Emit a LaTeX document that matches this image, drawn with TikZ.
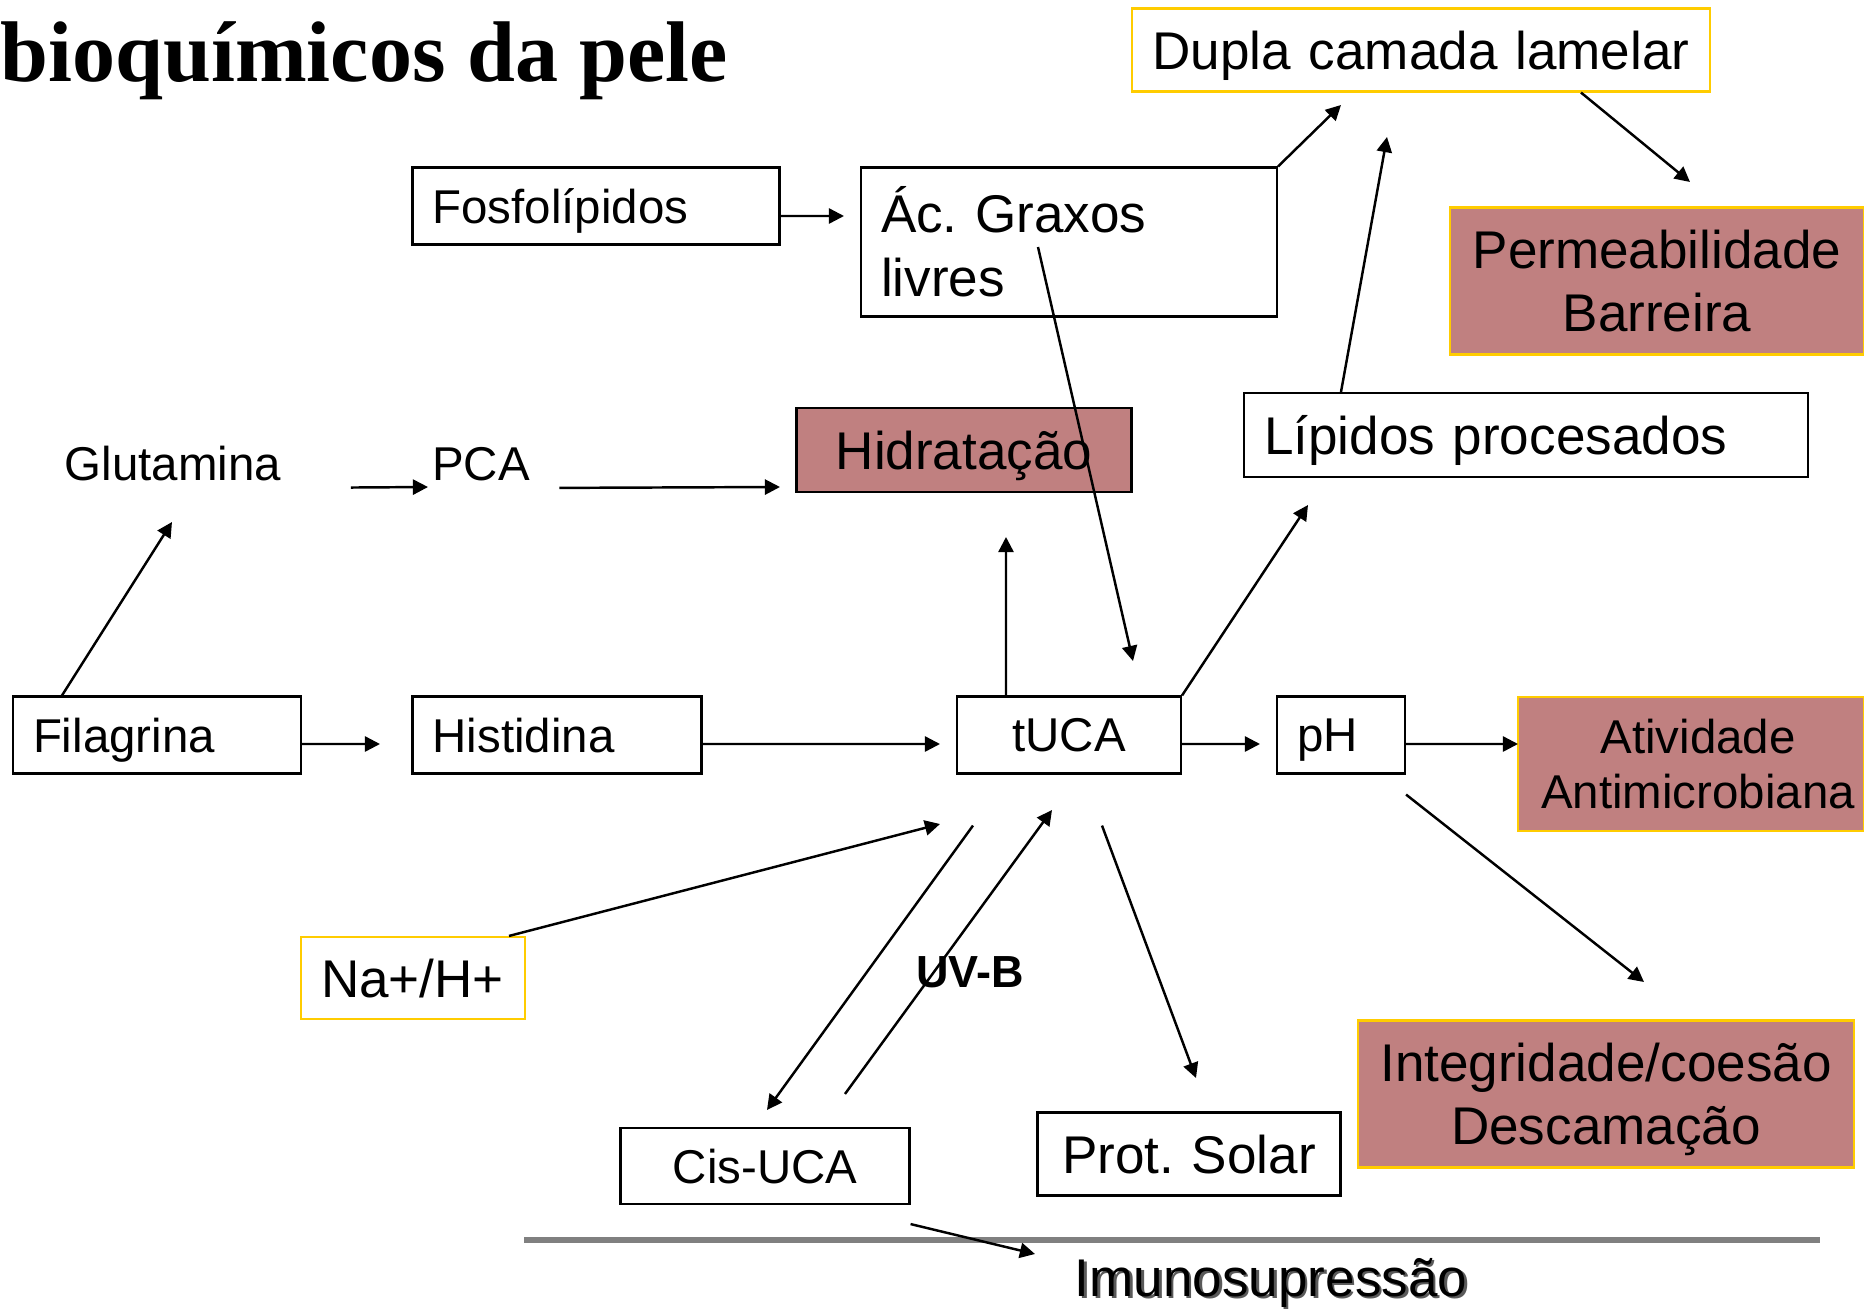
\documentclass[tikz,border=0pt]{standalone}
\usepackage{fontspec}
\setmainfont{Liberation Sans}
\newfontfamily\titulo{Liberation Serif}
\usetikzlibrary{arrows.meta}
\usetikzlibrary{calc}
\frenchspacing

\definecolor{rosa}{RGB}{192,128,128}
\definecolor{ouro}{RGB}{255,204,0}
\definecolor{cinza}{RGB}{128,128,128}

\newcommand{\fpeq}{\fontsize{13.5}{16}\selectfont}
\newcommand{\fgra}{\fontsize{15.1}{18.1}\selectfont}

\tikzset{
  caixa/.style={draw=black, line width=0.6pt, fill=white, inner xsep=0.2cm, inner ysep=0pt, font=\fpeq},
  simples/.style={caixa, text depth=0pt},
  destaque/.style={caixa, fill=rosa},
  amarela/.style={draw=ouro},
  solto/.style={inner sep=0pt, font=\fpeq},
  seta/.style={line width=0.7pt, -{Triangle[length=4.3pt,width=4.3pt]}},
}

\begin{document}
\begin{tikzpicture}[x=1cm,y=-1cm]
          \useasboundingbox (0,0) rectangle (18.64,13.10);

          \node[anchor=base west, inner sep=0pt, font=\titulo\bfseries\fontsize{24.5}{28}\selectfont] (titulo) at (0,0.81) {bioquímicos da pele};

          % caixas
          \node[simples, amarela, font=\fgra, text width=5.38cm, minimum height=0.83cm, align=center] (dupla) at (14.21,0.50) {Dupla camada lamelar};
          \node[simples, text width=3.27cm, minimum height=0.77cm, align=left] (fosfo) at (5.96,2.06) {Fosfolípidos};
          \node[caixa, font=\fgra, text width=3.76cm, minimum height=1.49cm, align=left] (graxos) at (10.69,2.42) {Ác. Graxos\\livres};
          \node[destaque, amarela, font=\fgra, text width=3.74cm, minimum height=1.47cm, align=center] (perm) at (16.57,2.81) {Permeabilidade\\Barreira};
          \node[simples, font=\fgra, text width=5.24cm, minimum height=0.84cm, align=left] (lipidos) at (15.26,4.35) {Lípidos procesados};
          \node[solto] (glut) at (1.73,4.64) {Glutamina};
          \node[solto] (pca) at (4.81,4.64) {PCA};
          \node[simples, fill=rosa, font=\fgra, text width=2.95cm, minimum height=0.84cm, align=center] (hidrat) at (9.64,4.50) {Hidratação};
          \node[simples, text width=2.48cm, minimum height=0.77cm, align=left] (fila) at (1.57,7.35) {Filagrina};
          \node[simples, text width=2.49cm, minimum height=0.77cm, align=left] (hist) at (5.57,7.35) {Histidina};
          \node[simples, text width=1.84cm, minimum height=0.77cm, align=center] (tuca) at (10.69,7.35) {tUCA};
          \node[simples, text width=0.88cm, minimum height=0.77cm, align=left] (ph) at (13.41,7.35) {pH};
          \node[destaque, amarela, inner xsep=0.06cm, text width=3.34cm, minimum height=1.34cm, align=center, font=\fontsize{13.5}{15.9}\selectfont] (ativ) at (16.91,7.64) {\hspace*{0.14cm}Atividade\\\hspace*{0.14cm}Antimicrobiana};
          \node[simples, amarela, font=\fgra, text width=1.84cm, minimum height=0.82cm, align=left] (na) at (4.13,9.78) {Na+/H+};
          \node[solto, font=\bfseries\fontsize{12.8}{15}\selectfont] (uvb) at (9.70,9.72) {UV-B};
          \node[simples, text width=2.49cm, minimum height=0.76cm, align=center] (cis) at (7.65,11.66) {Cis-UCA};
          \node[simples, font=\fgra, text width=2.63cm, minimum height=0.83cm, align=center] (prot) at (11.89,11.54) {Prot. Solar};
          \node[destaque, amarela, font=\fgra, text width=4.56cm, minimum height=1.47cm, align=center] (integ) at (16.06,10.94) {Integridade/coesão\\Descama\smash{ç}ão};
          \node[solto, font=\fgra] (imuno) at (12.71,12.84) {\makebox[0pt][l]{\raisebox{-0.7pt}{\hspace{0.7pt}\color{cinza!70!black}Imunosupressão}}Imunosupressão};

          \draw[cinza, line width=1.7pt] (5.24,12.40) -- (18.20,12.40); % linha cinza

          % pontas livres
          \coordinate (pGraxos) at (8.44,2.16);
          \coordinate (pDupla1) at (13.41,1.05);
          \coordinate (pDupla2) at (13.87,1.37);
          \coordinate (pPerm) at (16.90,1.82);
          \coordinate (pTuca1) at (11.33,6.61);
          \coordinate (pPCA) at (4.28,4.87);
          \coordinate (pHidr1) at (7.80,4.87);
          \coordinate (pGlut) at (1.72,5.22);
          \coordinate (pHist) at (3.80,7.44);
          \coordinate (pTuca2) at (9.40,7.44);
          \coordinate (pHidr2) at (10.06,5.37);
          \coordinate (pLip) at (13.08,5.05);
          \coordinate (pPH) at (12.60,7.44);
          \coordinate (pAtiv) at (15.18,7.44);
          \coordinate (pInteg) at (16.44,9.82);
          \coordinate (pTuca3) at (9.40,8.24);
          \coordinate (pCis) at (7.67,11.10);
          \coordinate (pTuca4) at (10.52,8.10);
          \coordinate (pProt) at (11.96,10.78);
          \coordinate (pImuno) at (10.35,12.54);

          % setas
          \draw[seta] ([yshift=-1mm]fosfo.east) -- (pGraxos);
          \draw[seta] (graxos.north east) -- (pDupla1);
          \draw[seta] ([xshift=-18.5mm]lipidos.north) -- (pDupla2);
          \draw[seta] ([xshift=16mm]dupla.south) -- (pPerm);
          \draw[seta] ([xshift=-3.1mm,yshift=-0.5mm]graxos.center) -- (pTuca1);
          \draw[seta, shorten <=6.9mm] ([yshift=-2.4mm]glut.east) -- (pPCA);
          \draw[seta, shorten <=2.9mm] ([yshift=-2.4mm]pca.east) -- (pHidr1);
          \draw[seta] ([xshift=-9.5mm]fila.north) -- (pGlut);
          \draw[seta] ([yshift=-0.9mm]fila.east) -- (pHist);
          \draw[seta] ([yshift=-0.9mm]hist.east) -- (pTuca2);
          \draw[seta] ([xshift=-6.3mm]tuca.north) -- (pHidr2);
          \draw[seta] (tuca.north east) -- (pLip);
          \draw[seta] ([yshift=-0.9mm]tuca.east) -- (pPH);
          \draw[seta] ([yshift=-0.9mm]ph.east) -- (pAtiv);
          \draw[seta] ([yshift=-2mm]ph.south east) -- (pInteg);
          \draw[seta] ([xshift=9.6mm]na.north) -- (pTuca3);
          \draw[seta] ([xshift=-9.6mm,yshift=-5.1mm]tuca.south) -- (pCis);
          \draw[seta] ([xshift=8mm,yshift=3.3mm]cis.north) -- (pTuca4);
          \draw[seta] ([xshift=3.3mm,yshift=-5.1mm]tuca.south) -- (pProt);
          \draw[seta] ([yshift=-1.9mm]cis.south east) -- (pImuno);
\end{tikzpicture}
\end{document}
